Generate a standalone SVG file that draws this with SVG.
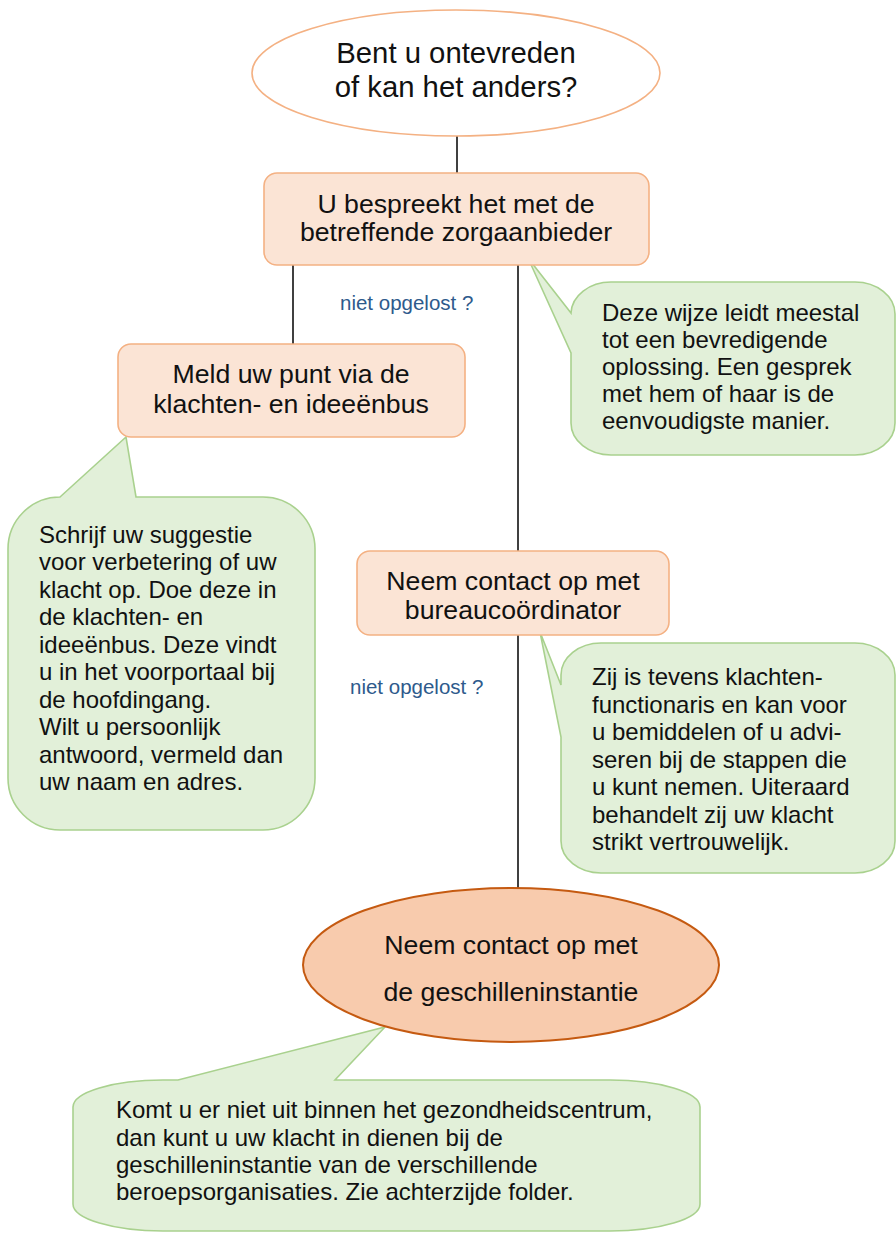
<svg xmlns="http://www.w3.org/2000/svg" width="896" height="1233" viewBox="0 0 896 1233">
<style>
text{font-family:"Liberation Sans",Arial,sans-serif;fill:#111}
.n{font-size:26.67px;text-anchor:middle}
.t{font-size:29.3px;text-anchor:middle}
.b{font-size:24px}
.lbl{font-size:20.5px;fill:#2E5A8C}
.box{fill:#FBE4D5;stroke:#F4B183;stroke-width:1.6}
.bub{fill:#E2F0D9;stroke:#A9D18E;stroke-width:1.6;stroke-linejoin:miter}
.con{stroke:#000;stroke-width:1.5;fill:none}
</style>
<rect width="896" height="1233" fill="#fff"/>
<g id="connectors">
<line class="con" x1="457" y1="136" x2="457" y2="174"/>
<line class="con" x1="293" y1="265" x2="293" y2="344"/>
<line class="con" x1="518" y1="265" x2="518" y2="551"/>
<line class="con" x1="518" y1="635" x2="518" y2="889"/>
<text class="lbl" x="340" y="310">niet opgelost ?</text>
<text class="lbl" x="350" y="694">niet opgelost ?</text>
</g>
<g id="callout-bespreek">
<path class="bub" d="M611 282 H855 A40 32 0 0 1 895 314 V423 A40 32 0 0 1 855 455 H611 A40 32 0 0 1 571 423 V353 L528 258 L571 313 A40 32 0 0 1 611 282 Z"/>
<text class="b" x="602" y="321">Deze wijze leidt meestal</text>
<text class="b" x="602" y="348">tot een bevredigende</text>
<text class="b" x="602" y="375">oplossing. Een gesprek</text>
<text class="b" x="602" y="402">met hem of haar is de</text>
<text class="b" x="602" y="429">eenvoudigste manier.</text>
</g>
<g id="callout-meld">
<path class="bub" d="M60 497 L126 437 L136 497 H263 A52 52 0 0 1 315 549 V778 A52 52 0 0 1 263 830 H60 A52 52 0 0 1 8 778 V549 A52 52 0 0 1 60 497 Z"/>
<text class="b" x="39" y="543">Schrijf uw suggestie</text>
<text class="b" x="39" y="570">voor verbetering of uw</text>
<text class="b" x="39" y="598">klacht op. Doe deze in</text>
<text class="b" x="39" y="625">de klachten- en</text>
<text class="b" x="39" y="653">ideeënbus. Deze vindt</text>
<text class="b" x="39" y="680">u in het voorportaal bij</text>
<text class="b" x="39" y="708">de hoofdingang.</text>
<text class="b" x="39" y="735">Wilt u persoonlijk</text>
<text class="b" x="39" y="763">antwoord, vermeld dan</text>
<text class="b" x="39" y="790">uw naam en adres.</text>
</g>
<g id="callout-coordinator">
<path class="bub" d="M601 643 H855 A40 32 0 0 1 895 675 V841 A40 32 0 0 1 855 873 H601 A40 32 0 0 1 561 841 V737 L540 632 L561 685 V675 A40 32 0 0 1 601 643 Z"/>
<text class="b" x="592" y="685">Zij is tevens klachten-</text>
<text class="b" x="592" y="713">functionaris en kan voor</text>
<text class="b" x="592" y="740">u bemiddelen of u advi-</text>
<text class="b" x="592" y="768">seren bij de stappen die</text>
<text class="b" x="592" y="795">u kunt nemen. Uiteraard</text>
<text class="b" x="592" y="823">behandelt zij uw klacht</text>
<text class="b" x="592" y="850">strikt vertrouwelijk.</text>
</g>
<g id="callout-geschil">
<path class="bub" d="M73 1107 A90 27 0 0 1 163 1080 H178 L385 1027 L335 1080 H610 A90 27 0 0 1 700 1107 V1204 A90 27 0 0 1 610 1231 H163 A90 27 0 0 1 73 1204 Z"/>
<text class="b" x="116" y="1118">Komt u er niet uit binnen het gezondheidscentrum,</text>
<text class="b" x="116" y="1146">dan kunt u uw klacht in dienen bij de</text>
<text class="b" x="116" y="1173">geschilleninstantie van de verschillende</text>
<text class="b" x="116" y="1200">beroepsorganisaties. Zie achterzijde folder.</text>
</g>
<g id="start">
<ellipse cx="456" cy="73" rx="204" ry="63" fill="#fff" stroke="#F4B183" stroke-width="1.6"/>
<text class="t" x="456" y="63">Bent u ontevreden</text>
<text class="t" x="456" y="97">of kan het anders?</text>
</g>
<g id="bespreek">
<rect class="box" x="264" y="173" width="385" height="92" rx="13"/>
<text class="n" x="456" y="213">U bespreekt het met de</text>
<text class="n" x="456" y="241">betreffende zorgaanbieder</text>
</g>
<g id="meld">
<rect class="box" x="118" y="344" width="347" height="93" rx="13"/>
<text class="n" x="291" y="383">Meld uw punt via de</text>
<text class="n" x="291" y="413">klachten- en ideeënbus</text>
</g>
<g id="coordinator">
<rect class="box" x="357" y="551" width="312" height="84" rx="13"/>
<text class="n" x="513" y="590">Neem contact op met</text>
<text class="n" x="513" y="619">bureaucoördinator</text>
</g>
<g id="geschil">
<ellipse cx="511" cy="965" rx="208" ry="77" fill="#F8CBAD" stroke="#C55A11" stroke-width="2"/>
<text class="n" x="511" y="954">Neem contact op met</text>
<text class="n" x="511" y="1001">de geschilleninstantie</text>
</g>
</svg>
